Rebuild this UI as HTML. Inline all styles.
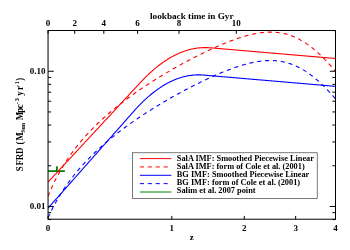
<!DOCTYPE html>
<html><head><meta charset="utf-8"><style>
html,body{margin:0;padding:0;background:#fff;}
svg{display:block;filter:grayscale(0)}
text{font-family:"Liberation Serif",serif;font-weight:bold;fill:#000}
</style></head><body>
<svg width="350" height="250" viewBox="0 0 350 250" font-size="9.0">
<rect width="350" height="250" fill="#fff"/>
<defs><clipPath id="cp"><rect x="48.05" y="30.5" width="287.45" height="188.7"/></clipPath></defs>
<g clip-path="url(#cp)" fill="none" stroke-width="1.1" stroke-linejoin="round">
<line x1="48" y1="171" x2="64.9" y2="171" stroke="#008000" stroke-width="1.75"/>
<line x1="56.9" y1="166.2" x2="56.9" y2="171" stroke="#008000" stroke-width="1.75"/>
<path d="M48.05 182.11 L48.50 181.63 L48.95 181.15 L49.40 180.66 L49.84 180.18 L50.29 179.70 L50.73 179.22 L51.17 178.74 L51.62 178.27 L52.06 177.79 L52.50 177.32 L52.94 176.85 L53.37 176.37 L53.81 175.90 L54.24 175.43 L54.68 174.97 L55.11 174.50 L55.54 174.03 L55.98 173.57 L56.41 173.10 L56.84 172.64 L57.26 172.18 L57.69 171.72 L58.12 171.26 L58.54 170.80 L58.97 170.34 L59.39 169.89 L59.81 169.43 L60.23 168.98 L60.65 168.52 L61.07 168.07 L61.49 167.62 L61.91 167.17 L62.32 166.72 L62.74 166.28 L63.15 165.83 L63.57 165.38 L63.98 164.94 L64.39 164.50 L64.80 164.05 L65.21 163.61 L65.62 163.17 L66.03 162.73 L66.43 162.29 L66.84 161.85 L67.24 161.42 L67.65 160.98 L68.05 160.55 L68.45 160.11 L68.85 159.68 L69.25 159.25 L69.65 158.82 L70.05 158.39 L70.45 157.96 L70.85 157.53 L71.24 157.11 L71.64 156.68 L72.03 156.26 L72.42 155.83 L72.82 155.41 L73.21 154.99 L73.60 154.56 L73.99 154.14 L74.38 153.73 L74.77 153.31 L75.15 152.89 L75.54 152.47 L75.92 152.06 L76.31 151.64 L76.69 151.23 L77.08 150.81 L77.46 150.40 L77.84 149.99 L78.22 149.58 L78.60 149.17 L78.98 148.76 L79.36 148.35 L79.74 147.95 L80.11 147.54 L80.49 147.14 L80.86 146.73 L81.24 146.33 L81.61 145.92 L81.98 145.52 L82.36 145.12 L82.73 144.72 L83.10 144.32 L83.47 143.92 L83.84 143.53 L84.20 143.13 L84.57 142.73 L84.94 142.34 L85.30 141.94 L85.67 141.55 L86.03 141.16 L86.40 140.76 L86.76 140.37 L87.12 139.98 L87.48 139.59 L87.84 139.20 L88.20 138.82 L88.56 138.43 L88.92 138.04 L89.28 137.66 L89.64 137.27 L89.99 136.89 L90.35 136.50 L90.70 136.12 L91.06 135.74 L91.41 135.36 L91.76 134.98 L92.12 134.60 L92.47 134.22 L92.82 133.84 L93.17 133.46 L93.52 133.08 L93.87 132.71 L94.21 132.33 L94.56 131.96 L94.91 131.59 L96.18 130.22 L97.44 128.86 L98.69 127.51 L99.93 126.17 L101.17 124.84 L102.39 123.51 L103.61 122.20 L104.82 120.90 L106.02 119.60 L107.22 118.32 L108.40 117.04 L109.58 115.77 L110.75 114.51 L111.91 113.25 L113.06 112.01 L114.21 110.77 L115.35 109.54 L116.48 108.32 L117.61 107.11 L118.73 105.90 L119.84 104.70 L120.94 103.51 L122.04 102.33 L123.13 101.15 L124.22 99.98 L125.30 98.82 L126.37 97.66 L127.43 96.52 L128.49 95.37 L129.54 94.24 L130.59 93.11 L131.63 91.99 L132.66 90.87 L133.69 89.76 L134.71 88.66 L135.73 87.57 L136.74 86.48 L137.75 85.39 L138.75 84.31 L139.74 83.24 L140.73 82.18 L141.71 81.13 L142.69 80.11 L143.66 79.10 L144.63 78.12 L145.59 77.16 L146.55 76.21 L147.50 75.29 L148.45 74.39 L149.39 73.51 L150.32 72.65 L151.26 71.80 L152.18 70.98 L153.10 70.17 L154.02 69.38 L154.93 68.61 L155.84 67.86 L156.75 67.12 L157.65 66.41 L158.54 65.70 L159.43 65.02 L160.32 64.35 L161.20 63.70 L162.07 63.06 L162.95 62.44 L163.81 61.84 L164.68 61.25 L165.54 60.68 L166.39 60.12 L167.25 59.57 L168.09 59.04 L168.94 58.53 L169.78 58.03 L170.61 57.54 L171.44 57.07 L172.27 56.61 L173.10 56.16 L173.92 55.73 L174.73 55.31 L175.55 54.90 L176.36 54.51 L177.16 54.13 L177.96 53.76 L178.76 53.40 L179.56 53.06 L180.35 52.72 L181.14 52.40 L181.92 52.10 L182.70 51.80 L183.48 51.51 L184.25 51.24 L185.02 50.97 L185.79 50.72 L186.56 50.48 L187.32 50.25 L188.08 50.03 L188.83 49.82 L189.58 49.62 L190.33 49.43 L191.07 49.25 L191.82 49.08 L192.56 48.92 L193.29 48.77 L194.02 48.63 L194.75 48.49 L195.48 48.37 L196.21 48.26 L196.93 48.16 L197.64 48.06 L198.36 47.98 L199.07 47.90 L199.78 47.83 L200.49 47.77 L201.19 47.72 L201.89 47.68 L202.59 47.64 L203.29 47.62 L203.98 47.60 L204.67 47.59 L205.36 47.59 L206.04 47.59 L206.73 47.61 L207.41 47.63 L208.08 47.66 L208.76 47.69 L209.43 47.74 L210.10 47.79 L210.77 47.84 L211.43 47.90 L212.10 47.96 L212.76 48.01 L213.41 48.07 L214.07 48.13 L214.72 48.18 L215.37 48.24 L216.02 48.29 L216.66 48.35 L217.31 48.40 L217.95 48.46 L218.59 48.51 L219.22 48.57 L219.86 48.62 L220.49 48.67 L221.12 48.73 L221.75 48.78 L222.37 48.84 L222.99 48.89 L223.61 48.94 L224.23 48.99 L224.85 49.05 L225.46 49.10 L226.08 49.15 L226.69 49.20 L227.29 49.26 L227.90 49.31 L228.50 49.36 L229.11 49.41 L229.71 49.46 L230.30 49.51 L230.90 49.56 L231.49 49.61 L232.09 49.67 L232.68 49.72 L233.26 49.77 L233.85 49.82 L234.44 49.87 L235.02 49.92 L235.60 49.97 L236.18 50.02 L236.75 50.06 L237.33 50.11 L237.90 50.16 L238.47 50.21 L239.04 50.26 L239.61 50.31 L240.18 50.36 L240.74 50.41 L241.30 50.45 L241.86 50.50 L242.42 50.55 L242.98 50.60 L243.53 50.64 L244.09 50.69 L244.64 50.74 L245.19 50.79 L245.74 50.83 L246.28 50.88 L246.83 50.93 L247.37 50.97 L247.91 51.02 L248.45 51.06 L248.99 51.11 L249.53 51.16 L250.06 51.20 L250.60 51.25 L251.13 51.29 L251.66 51.34 L252.19 51.38 L252.72 51.43 L253.24 51.47 L253.77 51.52 L254.29 51.56 L254.81 51.61 L255.33 51.65 L255.85 51.70 L256.36 51.74 L256.88 51.78 L257.39 51.83 L257.91 51.87 L258.42 51.92 L258.93 51.96 L259.43 52.00 L259.94 52.05 L260.44 52.09 L260.95 52.13 L261.45 52.18 L261.95 52.22 L262.45 52.26 L262.95 52.30 L263.45 52.35 L263.94 52.39 L264.43 52.43 L264.93 52.47 L265.42 52.51 L265.91 52.56 L266.40 52.60 L266.88 52.64 L267.37 52.68 L267.85 52.72 L268.34 52.76 L268.82 52.81 L269.30 52.85 L269.78 52.89 L270.26 52.93 L270.73 52.97 L271.21 53.01 L271.68 53.05 L272.15 53.09 L272.63 53.13 L273.10 53.17 L273.57 53.21 L274.03 53.25 L274.50 53.29 L274.97 53.33 L275.43 53.37 L275.89 53.41 L276.36 53.45 L276.82 53.49 L277.28 53.53 L277.73 53.57 L278.19 53.61 L278.65 53.65 L279.10 53.68 L279.56 53.72 L280.01 53.76 L280.46 53.80 L280.91 53.84 L281.36 53.88 L281.81 53.92 L282.25 53.95 L282.70 53.99 L283.14 54.03 L283.59 54.07 L284.03 54.11 L284.47 54.14 L284.91 54.18 L285.35 54.22 L285.79 54.26 L286.23 54.29 L286.66 54.33 L287.10 54.37 L287.53 54.40 L287.96 54.44 L288.39 54.48 L288.83 54.52 L289.26 54.55 L289.68 54.59 L290.11 54.63 L290.54 54.66 L290.96 54.70 L291.39 54.73 L291.81 54.77 L292.23 54.81 L292.66 54.84 L293.08 54.88 L293.50 54.91 L293.91 54.95 L294.33 54.99 L294.75 55.02 L295.16 55.06 L295.58 55.09 L295.99 55.13 L296.41 55.16 L296.82 55.20 L297.23 55.23 L297.64 55.27 L298.05 55.30 L298.45 55.34 L298.86 55.37 L299.27 55.41 L299.67 55.44 L300.08 55.48 L300.48 55.51 L300.88 55.55 L301.29 55.58 L301.69 55.61 L302.09 55.65 L302.49 55.68 L302.88 55.72 L303.28 55.75 L303.68 55.78 L304.07 55.82 L304.47 55.85 L304.86 55.89 L305.25 55.92 L305.64 55.95 L306.04 55.99 L306.43 56.02 L306.82 56.05 L307.20 56.09 L307.59 56.12 L307.98 56.15 L308.36 56.19 L308.75 56.22 L309.13 56.25 L309.52 56.28 L309.90 56.32 L310.28 56.35 L310.66 56.38 L311.04 56.41 L311.42 56.45 L311.80 56.48 L312.18 56.51 L312.56 56.54 L312.93 56.58 L313.31 56.61 L313.68 56.64 L314.06 56.67 L314.43 56.70 L314.80 56.74 L315.17 56.77 L315.54 56.80 L315.91 56.83 L316.28 56.86 L316.65 56.89 L317.02 56.93 L317.39 56.96 L317.75 56.99 L318.12 57.02 L318.48 57.05 L318.85 57.08 L319.21 57.11 L319.57 57.14 L319.94 57.17 L320.30 57.21 L320.66 57.24 L321.02 57.27 L321.37 57.30 L321.73 57.33 L322.09 57.36 L322.45 57.39 L322.80 57.42 L323.16 57.45 L323.51 57.48 L323.87 57.51 L324.22 57.54 L324.57 57.57 L324.92 57.60 L325.28 57.63 L325.63 57.66 L325.98 57.69 L326.32 57.72 L326.67 57.75 L327.02 57.78 L327.37 57.81 L327.71 57.84 L328.06 57.87 L328.40 57.90 L328.75 57.93 L329.09 57.96 L329.44 57.99 L329.78 58.02 L330.12 58.05 L330.46 58.07 L330.80 58.10 L331.14 58.13 L331.48 58.16 L331.82 58.19 L332.16 58.22 L332.49 58.25 L332.83 58.28 L333.17 58.31 L333.50 58.33 L333.84 58.36 L334.17 58.39 L334.50 58.42 L334.84 58.45 L335.17 58.48 L335.50 58.50" stroke="#ff0000"/>
<path d="M48.05 196.24 L48.50 195.11 L48.95 194.01 L49.40 192.93 L49.84 191.87 L50.29 190.83 L50.73 189.81 L51.17 188.80 L51.62 187.81 L52.06 186.84 L52.50 185.88 L52.94 184.94 L53.37 184.02 L53.81 183.10 L54.24 182.21 L54.68 181.32 L55.11 180.45 L55.54 179.59 L55.98 178.75 L56.41 177.91 L56.84 177.09 L57.26 176.28 L57.69 175.48 L58.12 174.69 L58.54 173.91 L58.97 173.14 L59.39 172.38 L59.81 171.63 L60.23 170.89 L60.65 170.16 L61.07 169.44 L61.49 168.73 L61.91 168.02 L62.32 167.33 L62.74 166.64 L63.15 165.96 L63.57 165.29 L63.98 164.62 L64.39 163.96 L64.80 163.32 L65.21 162.67 L65.62 162.04 L66.03 161.41 L66.43 160.79 L66.84 160.17 L67.24 159.56 L67.65 158.96 L68.05 158.36 L68.45 157.77 L68.85 157.19 L69.25 156.61 L69.65 156.03 L70.05 155.46 L70.45 154.90 L70.85 154.34 L71.24 153.79 L71.64 153.25 L72.03 152.70 L72.42 152.17 L72.82 151.63 L73.21 151.11 L73.60 150.59 L73.99 150.07 L74.38 149.55 L74.77 149.04 L75.15 148.54 L75.54 148.04 L75.92 147.54 L76.31 147.05 L76.69 146.56 L77.08 146.08 L77.46 145.60 L77.84 145.12 L78.22 144.65 L78.60 144.18 L78.98 143.72 L79.36 143.26 L79.74 142.80 L80.11 142.35 L80.49 141.90 L80.86 141.45 L81.24 141.01 L81.61 140.57 L81.98 140.13 L82.36 139.70 L82.73 139.27 L83.10 138.84 L83.47 138.41 L83.84 137.99 L84.20 137.57 L84.57 137.16 L84.94 136.75 L85.30 136.34 L85.67 135.93 L86.03 135.53 L86.40 135.12 L86.76 134.73 L87.12 134.33 L87.48 133.94 L87.84 133.55 L88.20 133.16 L88.56 132.77 L88.92 132.39 L89.28 132.01 L89.64 131.63 L89.99 131.26 L90.35 130.88 L90.70 130.51 L91.06 130.14 L91.41 129.78 L91.76 129.41 L92.12 129.05 L92.47 128.69 L92.82 128.34 L93.17 127.98 L93.52 127.63 L93.87 127.28 L94.21 126.93 L94.56 126.58 L94.91 126.24 L96.18 124.99 L97.44 123.76 L98.69 122.56 L99.93 121.39 L101.17 120.24 L102.39 119.11 L103.61 118.00 L104.82 116.91 L106.02 115.84 L107.22 114.79 L108.40 113.76 L109.58 112.75 L110.75 111.75 L111.91 110.77 L113.06 109.81 L114.21 108.86 L115.35 107.93 L116.48 107.01 L117.61 106.11 L118.73 105.22 L119.84 104.34 L120.94 103.48 L122.04 102.62 L123.13 101.79 L124.22 100.96 L125.30 100.14 L126.37 99.34 L127.43 98.54 L128.49 97.76 L129.54 96.99 L130.59 96.23 L131.63 95.47 L132.66 94.73 L133.69 94.00 L134.71 93.27 L135.73 92.56 L136.74 91.85 L137.75 91.15 L138.75 90.46 L139.74 89.78 L140.73 89.10 L141.71 88.44 L142.69 87.78 L143.66 87.13 L144.63 86.48 L145.59 85.84 L146.55 85.21 L147.50 84.59 L148.45 83.97 L149.39 83.36 L150.32 82.76 L151.26 82.16 L152.18 81.57 L153.10 80.99 L154.02 80.41 L154.93 79.83 L155.84 79.26 L156.75 78.70 L157.65 78.14 L158.54 77.59 L159.43 77.05 L160.32 76.51 L161.20 75.97 L162.07 75.44 L162.95 74.91 L163.81 74.39 L164.68 73.87 L165.54 73.36 L166.39 72.86 L167.25 72.35 L168.09 71.86 L168.94 71.36 L169.78 70.87 L170.61 70.39 L171.44 69.91 L172.27 69.43 L173.10 68.96 L173.92 68.49 L174.73 68.03 L175.55 67.57 L176.36 67.11 L177.16 66.66 L177.96 66.21 L178.76 65.77 L179.56 65.32 L180.35 64.89 L181.14 64.45 L181.92 64.02 L182.70 63.60 L183.48 63.17 L184.25 62.75 L185.02 62.34 L185.79 61.92 L186.56 61.51 L187.32 61.11 L188.08 60.71 L188.83 60.31 L189.58 59.91 L190.33 59.52 L191.07 59.13 L191.82 58.74 L192.56 58.35 L193.29 57.97 L194.02 57.60 L194.75 57.22 L195.48 56.85 L196.21 56.48 L196.93 56.12 L197.64 55.75 L198.36 55.39 L199.07 55.04 L199.78 54.68 L200.49 54.33 L201.19 53.98 L201.89 53.64 L202.59 53.29 L203.29 52.95 L203.98 52.62 L204.67 52.28 L205.36 51.95 L206.04 51.62 L206.73 51.30 L207.41 50.97 L208.08 50.65 L208.76 50.33 L209.43 50.02 L210.10 49.71 L210.77 49.40 L211.43 49.09 L212.10 48.78 L212.76 48.48 L213.41 48.18 L214.07 47.89 L214.72 47.59 L215.37 47.30 L216.02 47.01 L216.66 46.73 L217.31 46.44 L217.95 46.16 L218.59 45.88 L219.22 45.61 L219.86 45.33 L220.49 45.06 L221.12 44.80 L221.75 44.53 L222.37 44.27 L222.99 44.01 L223.61 43.75 L224.23 43.50 L224.85 43.24 L225.46 42.99 L226.08 42.75 L226.69 42.50 L227.29 42.26 L227.90 42.02 L228.50 41.78 L229.11 41.55 L229.71 41.32 L230.30 41.09 L230.90 40.86 L231.49 40.64 L232.09 40.42 L232.68 40.20 L233.26 39.99 L233.85 39.77 L234.44 39.56 L235.02 39.36 L235.60 39.15 L236.18 38.95 L236.75 38.75 L237.33 38.56 L237.90 38.36 L238.47 38.17 L239.04 37.98 L239.61 37.80 L240.18 37.61 L240.74 37.43 L241.30 37.26 L241.86 37.08 L242.42 36.91 L242.98 36.74 L243.53 36.58 L244.09 36.41 L244.64 36.25 L245.19 36.10 L245.74 35.94 L246.28 35.79 L246.83 35.64 L247.37 35.50 L247.91 35.35 L248.45 35.21 L248.99 35.08 L249.53 34.94 L250.06 34.81 L250.60 34.68 L251.13 34.56 L251.66 34.44 L252.19 34.32 L252.72 34.20 L253.24 34.09 L253.77 33.98 L254.29 33.87 L254.81 33.77 L255.33 33.67 L255.85 33.57 L256.36 33.47 L256.88 33.38 L257.39 33.29 L257.91 33.21 L258.42 33.12 L258.93 33.05 L259.43 32.97 L259.94 32.90 L260.44 32.83 L260.95 32.76 L261.45 32.70 L261.95 32.64 L262.45 32.58 L262.95 32.53 L263.45 32.48 L263.94 32.43 L264.43 32.39 L264.93 32.35 L265.42 32.31 L265.91 32.27 L266.40 32.24 L266.88 32.22 L267.37 32.19 L267.85 32.17 L268.34 32.15 L268.82 32.14 L269.30 32.13 L269.78 32.12 L270.26 32.12 L270.73 32.12 L271.21 32.12 L271.68 32.13 L272.15 32.14 L272.63 32.15 L273.10 32.16 L273.57 32.18 L274.03 32.21 L274.50 32.23 L274.97 32.26 L275.43 32.30 L275.89 32.33 L276.36 32.37 L276.82 32.42 L277.28 32.46 L277.73 32.51 L278.19 32.57 L278.65 32.62 L279.10 32.68 L279.56 32.75 L280.01 32.82 L280.46 32.89 L280.91 32.96 L281.36 33.04 L281.81 33.12 L282.25 33.20 L282.70 33.29 L283.14 33.38 L283.59 33.48 L284.03 33.57 L284.47 33.68 L284.91 33.78 L285.35 33.89 L285.79 34.00 L286.23 34.11 L286.66 34.23 L287.10 34.35 L287.53 34.48 L287.96 34.61 L288.39 34.74 L288.83 34.87 L289.26 35.01 L289.68 35.15 L290.11 35.30 L290.54 35.44 L290.96 35.59 L291.39 35.75 L291.81 35.91 L292.23 36.07 L292.66 36.23 L293.08 36.40 L293.50 36.57 L293.91 36.74 L294.33 36.92 L294.75 37.10 L295.16 37.28 L295.58 37.47 L295.99 37.66 L296.41 37.85 L296.82 38.04 L297.23 38.24 L297.64 38.44 L298.05 38.65 L298.45 38.86 L298.86 39.07 L299.27 39.28 L299.67 39.50 L300.08 39.71 L300.48 39.94 L300.88 40.16 L301.29 40.39 L301.69 40.62 L302.09 40.85 L302.49 41.09 L302.88 41.33 L303.28 41.57 L303.68 41.82 L304.07 42.06 L304.47 42.31 L304.86 42.57 L305.25 42.82 L305.64 43.08 L306.04 43.34 L306.43 43.60 L306.82 43.87 L307.20 44.14 L307.59 44.41 L307.98 44.68 L308.36 44.96 L308.75 45.24 L309.13 45.52 L309.52 45.80 L309.90 46.09 L310.28 46.38 L310.66 46.67 L311.04 46.96 L311.42 47.25 L311.80 47.55 L312.18 47.85 L312.56 48.15 L312.93 48.46 L313.31 48.76 L313.68 49.07 L314.06 49.38 L314.43 49.70 L314.80 50.01 L315.17 50.33 L315.54 50.65 L315.91 50.97 L316.28 51.29 L316.65 51.62 L317.02 51.94 L317.39 52.27 L317.75 52.60 L318.12 52.93 L318.48 53.27 L318.85 53.60 L319.21 53.94 L319.57 54.28 L319.94 54.62 L320.30 54.97 L320.66 55.31 L321.02 55.66 L321.37 56.01 L321.73 56.36 L322.09 56.71 L322.45 57.06 L322.80 57.42 L323.16 57.77 L323.51 58.13 L323.87 58.49 L324.22 58.85 L324.57 59.21 L324.92 59.58 L325.28 59.94 L325.63 60.31 L325.98 60.68 L326.32 61.05 L326.67 61.42 L327.02 61.79 L327.37 62.16 L327.71 62.54 L328.06 62.91 L328.40 63.29 L328.75 63.67 L329.09 64.05 L329.44 64.43 L329.78 64.81 L330.12 65.19 L330.46 65.58 L330.80 65.96 L331.14 66.35 L331.48 66.73 L331.82 67.12 L332.16 67.51 L332.49 67.90 L332.83 68.29 L333.17 68.68 L333.50 69.08 L333.84 69.47 L334.17 69.87 L334.50 70.26 L334.84 70.66 L335.17 71.05 L335.50 71.45" stroke="#ff0000" stroke-dasharray="4.1 3.8"/>
<path d="M48.05 208.21 L48.50 207.70 L48.95 207.19 L49.40 206.69 L49.84 206.18 L50.29 205.68 L50.73 205.18 L51.17 204.67 L51.62 204.17 L52.06 203.68 L52.50 203.18 L52.94 202.68 L53.37 202.19 L53.81 201.69 L54.24 201.20 L54.68 200.71 L55.11 200.22 L55.54 199.73 L55.98 199.24 L56.41 198.76 L56.84 198.27 L57.26 197.79 L57.69 197.30 L58.12 196.82 L58.54 196.34 L58.97 195.86 L59.39 195.38 L59.81 194.91 L60.23 194.43 L60.65 193.96 L61.07 193.48 L61.49 193.01 L61.91 192.54 L62.32 192.07 L62.74 191.60 L63.15 191.13 L63.57 190.66 L63.98 190.19 L64.39 189.73 L64.80 189.27 L65.21 188.80 L65.62 188.34 L66.03 187.88 L66.43 187.42 L66.84 186.96 L67.24 186.50 L67.65 186.05 L68.05 185.59 L68.45 185.14 L68.85 184.68 L69.25 184.23 L69.65 183.78 L70.05 183.33 L70.45 182.88 L70.85 182.43 L71.24 181.98 L71.64 181.53 L72.03 181.09 L72.42 180.64 L72.82 180.20 L73.21 179.76 L73.60 179.31 L73.99 178.87 L74.38 178.43 L74.77 177.99 L75.15 177.56 L75.54 177.12 L75.92 176.68 L76.31 176.25 L76.69 175.81 L77.08 175.38 L77.46 174.95 L77.84 174.52 L78.22 174.09 L78.60 173.66 L78.98 173.23 L79.36 172.80 L79.74 172.37 L80.11 171.95 L80.49 171.52 L80.86 171.10 L81.24 170.68 L81.61 170.25 L81.98 169.83 L82.36 169.41 L82.73 168.99 L83.10 168.57 L83.47 168.15 L83.84 167.74 L84.20 167.32 L84.57 166.91 L84.94 166.49 L85.30 166.08 L85.67 165.66 L86.03 165.25 L86.40 164.84 L86.76 164.43 L87.12 164.02 L87.48 163.61 L87.84 163.20 L88.20 162.80 L88.56 162.39 L88.92 161.99 L89.28 161.58 L89.64 161.18 L89.99 160.77 L90.35 160.37 L90.70 159.97 L91.06 159.57 L91.41 159.17 L91.76 158.77 L92.12 158.37 L92.47 157.97 L92.82 157.58 L93.17 157.18 L93.52 156.79 L93.87 156.39 L94.21 156.00 L94.56 155.61 L94.91 155.21 L96.18 153.78 L97.44 152.35 L98.69 150.94 L99.93 149.53 L101.17 148.14 L102.39 146.75 L103.61 145.37 L104.82 144.00 L106.02 142.65 L107.22 141.30 L108.40 139.96 L109.58 138.62 L110.75 137.30 L111.91 135.99 L113.06 134.68 L114.21 133.38 L115.35 132.10 L116.48 130.81 L117.61 129.54 L118.73 128.28 L119.84 127.02 L120.94 125.77 L122.04 124.53 L123.13 123.29 L124.22 122.07 L125.30 120.85 L126.37 119.64 L127.43 118.43 L128.49 117.24 L129.54 116.05 L130.59 114.86 L131.63 113.69 L132.66 112.52 L133.69 111.35 L134.71 110.21 L135.73 109.09 L136.74 108.00 L137.75 106.93 L138.75 105.88 L139.74 104.86 L140.73 103.85 L141.71 102.87 L142.69 101.92 L143.66 100.98 L144.63 100.07 L145.59 99.18 L146.55 98.30 L147.50 97.45 L148.45 96.62 L149.39 95.81 L150.32 95.02 L151.26 94.24 L152.18 93.49 L153.10 92.75 L154.02 92.04 L154.93 91.34 L155.84 90.66 L156.75 90.00 L157.65 89.35 L158.54 88.72 L159.43 88.11 L160.32 87.52 L161.20 86.94 L162.07 86.38 L162.95 85.83 L163.81 85.30 L164.68 84.78 L165.54 84.29 L166.39 83.80 L167.25 83.33 L168.09 82.88 L168.94 82.44 L169.78 82.01 L170.61 81.60 L171.44 81.21 L172.27 80.82 L173.10 80.45 L173.92 80.10 L174.73 79.75 L175.55 79.42 L176.36 79.11 L177.16 78.80 L177.96 78.51 L178.76 78.23 L179.56 77.96 L180.35 77.71 L181.14 77.47 L181.92 77.23 L182.70 77.02 L183.48 76.81 L184.25 76.61 L185.02 76.42 L185.79 76.25 L186.56 76.09 L187.32 75.93 L188.08 75.79 L188.83 75.66 L189.58 75.54 L190.33 75.43 L191.07 75.33 L191.82 75.24 L192.56 75.16 L193.29 75.09 L194.02 75.02 L194.75 74.97 L195.48 74.93 L196.21 74.90 L196.93 74.87 L197.64 74.86 L198.36 74.85 L199.07 74.86 L199.78 74.87 L200.49 74.89 L201.19 74.92 L201.89 74.96 L202.59 75.00 L203.29 75.06 L203.98 75.11 L204.67 75.17 L205.36 75.23 L206.04 75.29 L206.73 75.35 L207.41 75.41 L208.08 75.47 L208.76 75.52 L209.43 75.58 L210.10 75.64 L210.77 75.69 L211.43 75.75 L212.10 75.81 L212.76 75.86 L213.41 75.92 L214.07 75.98 L214.72 76.03 L215.37 76.09 L216.02 76.14 L216.66 76.20 L217.31 76.25 L217.95 76.31 L218.59 76.36 L219.22 76.42 L219.86 76.47 L220.49 76.53 L221.12 76.58 L221.75 76.63 L222.37 76.69 L222.99 76.74 L223.61 76.79 L224.23 76.85 L224.85 76.90 L225.46 76.95 L226.08 77.00 L226.69 77.06 L227.29 77.11 L227.90 77.16 L228.50 77.21 L229.11 77.26 L229.71 77.31 L230.30 77.36 L230.90 77.42 L231.49 77.47 L232.09 77.52 L232.68 77.57 L233.26 77.62 L233.85 77.67 L234.44 77.72 L235.02 77.77 L235.60 77.82 L236.18 77.87 L236.75 77.92 L237.33 77.96 L237.90 78.01 L238.47 78.06 L239.04 78.11 L239.61 78.16 L240.18 78.21 L240.74 78.26 L241.30 78.30 L241.86 78.35 L242.42 78.40 L242.98 78.45 L243.53 78.50 L244.09 78.54 L244.64 78.59 L245.19 78.64 L245.74 78.68 L246.28 78.73 L246.83 78.78 L247.37 78.82 L247.91 78.87 L248.45 78.92 L248.99 78.96 L249.53 79.01 L250.06 79.05 L250.60 79.10 L251.13 79.14 L251.66 79.19 L252.19 79.24 L252.72 79.28 L253.24 79.33 L253.77 79.37 L254.29 79.41 L254.81 79.46 L255.33 79.50 L255.85 79.55 L256.36 79.59 L256.88 79.64 L257.39 79.68 L257.91 79.72 L258.42 79.77 L258.93 79.81 L259.43 79.85 L259.94 79.90 L260.44 79.94 L260.95 79.98 L261.45 80.03 L261.95 80.07 L262.45 80.11 L262.95 80.15 L263.45 80.20 L263.94 80.24 L264.43 80.28 L264.93 80.32 L265.42 80.37 L265.91 80.41 L266.40 80.45 L266.88 80.49 L267.37 80.53 L267.85 80.57 L268.34 80.62 L268.82 80.66 L269.30 80.70 L269.78 80.74 L270.26 80.78 L270.73 80.82 L271.21 80.86 L271.68 80.90 L272.15 80.94 L272.63 80.98 L273.10 81.02 L273.57 81.06 L274.03 81.10 L274.50 81.14 L274.97 81.18 L275.43 81.22 L275.89 81.26 L276.36 81.30 L276.82 81.34 L277.28 81.38 L277.73 81.42 L278.19 81.46 L278.65 81.50 L279.10 81.54 L279.56 81.57 L280.01 81.61 L280.46 81.65 L280.91 81.69 L281.36 81.73 L281.81 81.77 L282.25 81.80 L282.70 81.84 L283.14 81.88 L283.59 81.92 L284.03 81.96 L284.47 81.99 L284.91 82.03 L285.35 82.07 L285.79 82.11 L286.23 82.14 L286.66 82.18 L287.10 82.22 L287.53 82.26 L287.96 82.29 L288.39 82.33 L288.83 82.37 L289.26 82.40 L289.68 82.44 L290.11 82.48 L290.54 82.51 L290.96 82.55 L291.39 82.59 L291.81 82.62 L292.23 82.66 L292.66 82.69 L293.08 82.73 L293.50 82.77 L293.91 82.80 L294.33 82.84 L294.75 82.87 L295.16 82.91 L295.58 82.94 L295.99 82.98 L296.41 83.01 L296.82 83.05 L297.23 83.08 L297.64 83.12 L298.05 83.15 L298.45 83.19 L298.86 83.22 L299.27 83.26 L299.67 83.29 L300.08 83.33 L300.48 83.36 L300.88 83.40 L301.29 83.43 L301.69 83.47 L302.09 83.50 L302.49 83.53 L302.88 83.57 L303.28 83.60 L303.68 83.64 L304.07 83.67 L304.47 83.70 L304.86 83.74 L305.25 83.77 L305.64 83.80 L306.04 83.84 L306.43 83.87 L306.82 83.90 L307.20 83.94 L307.59 83.97 L307.98 84.00 L308.36 84.04 L308.75 84.07 L309.13 84.10 L309.52 84.14 L309.90 84.17 L310.28 84.20 L310.66 84.23 L311.04 84.27 L311.42 84.30 L311.80 84.33 L312.18 84.36 L312.56 84.40 L312.93 84.43 L313.31 84.46 L313.68 84.49 L314.06 84.52 L314.43 84.56 L314.80 84.59 L315.17 84.62 L315.54 84.65 L315.91 84.68 L316.28 84.71 L316.65 84.75 L317.02 84.78 L317.39 84.81 L317.75 84.84 L318.12 84.87 L318.48 84.90 L318.85 84.93 L319.21 84.96 L319.57 84.99 L319.94 85.03 L320.30 85.06 L320.66 85.09 L321.02 85.12 L321.37 85.15 L321.73 85.18 L322.09 85.21 L322.45 85.24 L322.80 85.27 L323.16 85.30 L323.51 85.33 L323.87 85.36 L324.22 85.39 L324.57 85.42 L324.92 85.45 L325.28 85.48 L325.63 85.51 L325.98 85.54 L326.32 85.57 L326.67 85.60 L327.02 85.63 L327.37 85.66 L327.71 85.69 L328.06 85.72 L328.40 85.75 L328.75 85.78 L329.09 85.81 L329.44 85.84 L329.78 85.87 L330.12 85.90 L330.46 85.93 L330.80 85.95 L331.14 85.98 L331.48 86.01 L331.82 86.04 L332.16 86.07 L332.49 86.10 L332.83 86.13 L333.17 86.16 L333.50 86.19 L333.84 86.21 L334.17 86.24 L334.50 86.27 L334.84 86.30 L335.17 86.33 L335.50 86.36" stroke="#0000ff"/>
<path d="M48.05 217.67 L48.50 216.68 L48.95 215.70 L49.40 214.74 L49.84 213.79 L50.29 212.86 L50.73 211.94 L51.17 211.04 L51.62 210.15 L52.06 209.27 L52.50 208.41 L52.94 207.56 L53.37 206.72 L53.81 205.89 L54.24 205.08 L54.68 204.27 L55.11 203.48 L55.54 202.70 L55.98 201.92 L56.41 201.16 L56.84 200.41 L57.26 199.67 L57.69 198.93 L58.12 198.21 L58.54 197.49 L58.97 196.78 L59.39 196.09 L59.81 195.39 L60.23 194.71 L60.65 194.04 L61.07 193.37 L61.49 192.71 L61.91 192.06 L62.32 191.41 L62.74 190.77 L63.15 190.14 L63.57 189.52 L63.98 188.90 L64.39 188.29 L64.80 187.68 L65.21 187.08 L65.62 186.49 L66.03 185.90 L66.43 185.32 L66.84 184.75 L67.24 184.18 L67.65 183.61 L68.05 183.05 L68.45 182.50 L68.85 181.95 L69.25 181.41 L69.65 180.87 L70.05 180.34 L70.45 179.81 L70.85 179.28 L71.24 178.76 L71.64 178.25 L72.03 177.74 L72.42 177.23 L72.82 176.73 L73.21 176.23 L73.60 175.74 L73.99 175.25 L74.38 174.76 L74.77 174.28 L75.15 173.80 L75.54 173.33 L75.92 172.86 L76.31 172.40 L76.69 171.93 L77.08 171.47 L77.46 171.02 L77.84 170.57 L78.22 170.12 L78.60 169.67 L78.98 169.23 L79.36 168.80 L79.74 168.36 L80.11 167.93 L80.49 167.50 L80.86 167.07 L81.24 166.65 L81.61 166.23 L81.98 165.82 L82.36 165.40 L82.73 164.99 L83.10 164.58 L83.47 164.18 L83.84 163.78 L84.20 163.38 L84.57 162.98 L84.94 162.59 L85.30 162.20 L85.67 161.81 L86.03 161.42 L86.40 161.04 L86.76 160.66 L87.12 160.28 L87.48 159.90 L87.84 159.53 L88.20 159.16 L88.56 158.79 L88.92 158.42 L89.28 158.05 L89.64 157.69 L89.99 157.33 L90.35 156.97 L90.70 156.62 L91.06 156.26 L91.41 155.91 L91.76 155.56 L92.12 155.22 L92.47 154.87 L92.82 154.53 L93.17 154.19 L93.52 153.85 L93.87 153.51 L94.21 153.17 L94.56 152.84 L94.91 152.51 L96.18 151.30 L97.44 150.12 L98.69 148.97 L99.93 147.83 L101.17 146.72 L102.39 145.63 L103.61 144.56 L104.82 143.50 L106.02 142.47 L107.22 141.45 L108.40 140.45 L109.58 139.47 L110.75 138.50 L111.91 137.55 L113.06 136.62 L114.21 135.70 L115.35 134.79 L116.48 133.90 L117.61 133.02 L118.73 132.15 L119.84 131.30 L120.94 130.46 L122.04 129.63 L123.13 128.81 L124.22 128.00 L125.30 127.21 L126.37 126.42 L127.43 125.65 L128.49 124.88 L129.54 124.13 L130.59 123.38 L131.63 122.65 L132.66 121.92 L133.69 121.20 L134.71 120.49 L135.73 119.79 L136.74 119.10 L137.75 118.42 L138.75 117.74 L139.74 117.07 L140.73 116.41 L141.71 115.76 L142.69 115.12 L143.66 114.48 L144.63 113.85 L145.59 113.22 L146.55 112.60 L147.50 111.99 L148.45 111.39 L149.39 110.79 L150.32 110.19 L151.26 109.61 L152.18 109.03 L153.10 108.45 L154.02 107.88 L154.93 107.32 L155.84 106.76 L156.75 106.21 L157.65 105.66 L158.54 105.12 L159.43 104.58 L160.32 104.05 L161.20 103.52 L162.07 103.00 L162.95 102.49 L163.81 101.97 L164.68 101.47 L165.54 100.96 L166.39 100.46 L167.25 99.97 L168.09 99.48 L168.94 98.99 L169.78 98.51 L170.61 98.04 L171.44 97.56 L172.27 97.09 L173.10 96.63 L173.92 96.17 L174.73 95.71 L175.55 95.26 L176.36 94.81 L177.16 94.36 L177.96 93.92 L178.76 93.48 L179.56 93.05 L180.35 92.62 L181.14 92.19 L181.92 91.77 L182.70 91.35 L183.48 90.93 L184.25 90.52 L185.02 90.11 L185.79 89.70 L186.56 89.30 L187.32 88.90 L188.08 88.50 L188.83 88.11 L189.58 87.72 L190.33 87.33 L191.07 86.95 L191.82 86.56 L192.56 86.19 L193.29 85.81 L194.02 85.44 L194.75 85.07 L195.48 84.70 L196.21 84.34 L196.93 83.98 L197.64 83.62 L198.36 83.27 L199.07 82.92 L199.78 82.57 L200.49 82.22 L201.19 81.88 L201.89 81.54 L202.59 81.20 L203.29 80.87 L203.98 80.54 L204.67 80.21 L205.36 79.88 L206.04 79.56 L206.73 79.24 L207.41 78.92 L208.08 78.60 L208.76 78.29 L209.43 77.98 L210.10 77.67 L210.77 77.37 L211.43 77.07 L212.10 76.77 L212.76 76.47 L213.41 76.18 L214.07 75.88 L214.72 75.60 L215.37 75.31 L216.02 75.03 L216.66 74.74 L217.31 74.47 L217.95 74.19 L218.59 73.92 L219.22 73.65 L219.86 73.38 L220.49 73.11 L221.12 72.85 L221.75 72.59 L222.37 72.33 L222.99 72.08 L223.61 71.82 L224.23 71.57 L224.85 71.33 L225.46 71.08 L226.08 70.84 L226.69 70.60 L227.29 70.36 L227.90 70.13 L228.50 69.90 L229.11 69.67 L229.71 69.44 L230.30 69.22 L230.90 69.00 L231.49 68.78 L232.09 68.56 L232.68 68.35 L233.26 68.14 L233.85 67.93 L234.44 67.73 L235.02 67.53 L235.60 67.33 L236.18 67.13 L236.75 66.93 L237.33 66.74 L237.90 66.55 L238.47 66.37 L239.04 66.18 L239.61 66.00 L240.18 65.83 L240.74 65.65 L241.30 65.48 L241.86 65.31 L242.42 65.14 L242.98 64.98 L243.53 64.82 L244.09 64.66 L244.64 64.50 L245.19 64.35 L245.74 64.20 L246.28 64.05 L246.83 63.91 L247.37 63.77 L247.91 63.63 L248.45 63.49 L248.99 63.36 L249.53 63.23 L250.06 63.11 L250.60 62.98 L251.13 62.86 L251.66 62.74 L252.19 62.63 L252.72 62.52 L253.24 62.41 L253.77 62.30 L254.29 62.20 L254.81 62.10 L255.33 62.00 L255.85 61.91 L256.36 61.82 L256.88 61.73 L257.39 61.65 L257.91 61.56 L258.42 61.49 L258.93 61.41 L259.43 61.34 L259.94 61.27 L260.44 61.20 L260.95 61.14 L261.45 61.08 L261.95 61.02 L262.45 60.97 L262.95 60.92 L263.45 60.87 L263.94 60.83 L264.43 60.79 L264.93 60.75 L265.42 60.72 L265.91 60.69 L266.40 60.66 L266.88 60.63 L267.37 60.61 L267.85 60.60 L268.34 60.58 L268.82 60.57 L269.30 60.56 L269.78 60.56 L270.26 60.55 L270.73 60.56 L271.21 60.56 L271.68 60.57 L272.15 60.58 L272.63 60.59 L273.10 60.61 L273.57 60.63 L274.03 60.66 L274.50 60.69 L274.97 60.72 L275.43 60.75 L275.89 60.79 L276.36 60.83 L276.82 60.88 L277.28 60.92 L277.73 60.98 L278.19 61.03 L278.65 61.09 L279.10 61.15 L279.56 61.21 L280.01 61.28 L280.46 61.35 L280.91 61.43 L281.36 61.50 L281.81 61.58 L282.25 61.67 L282.70 61.76 L283.14 61.85 L283.59 61.94 L284.03 62.04 L284.47 62.14 L284.91 62.24 L285.35 62.35 L285.79 62.46 L286.23 62.57 L286.66 62.69 L287.10 62.81 L287.53 62.93 L287.96 63.06 L288.39 63.19 L288.83 63.32 L289.26 63.46 L289.68 63.60 L290.11 63.74 L290.54 63.89 L290.96 64.04 L291.39 64.19 L291.81 64.34 L292.23 64.50 L292.66 64.66 L293.08 64.82 L293.50 64.99 L293.91 65.16 L294.33 65.34 L294.75 65.51 L295.16 65.69 L295.58 65.87 L295.99 66.06 L296.41 66.25 L296.82 66.44 L297.23 66.63 L297.64 66.83 L298.05 67.03 L298.45 67.23 L298.86 67.44 L299.27 67.65 L299.67 67.86 L300.08 68.07 L300.48 68.29 L300.88 68.51 L301.29 68.73 L301.69 68.96 L302.09 69.18 L302.49 69.42 L302.88 69.65 L303.28 69.88 L303.68 70.12 L304.07 70.36 L304.47 70.61 L304.86 70.85 L305.25 71.10 L305.64 71.36 L306.04 71.61 L306.43 71.87 L306.82 72.12 L307.20 72.39 L307.59 72.65 L307.98 72.92 L308.36 73.18 L308.75 73.46 L309.13 73.73 L309.52 74.00 L309.90 74.28 L310.28 74.56 L310.66 74.85 L311.04 75.13 L311.42 75.42 L311.80 75.71 L312.18 76.00 L312.56 76.29 L312.93 76.59 L313.31 76.88 L313.68 77.18 L314.06 77.49 L314.43 77.79 L314.80 78.10 L315.17 78.40 L315.54 78.71 L315.91 79.02 L316.28 79.34 L316.65 79.65 L317.02 79.97 L317.39 80.29 L317.75 80.61 L318.12 80.93 L318.48 81.26 L318.85 81.59 L319.21 81.91 L319.57 82.24 L319.94 82.58 L320.30 82.91 L320.66 83.24 L321.02 83.58 L321.37 83.92 L321.73 84.26 L322.09 84.60 L322.45 84.94 L322.80 85.29 L323.16 85.63 L323.51 85.98 L323.87 86.33 L324.22 86.68 L324.57 87.03 L324.92 87.38 L325.28 87.74 L325.63 88.09 L325.98 88.45 L326.32 88.81 L326.67 89.17 L327.02 89.53 L327.37 89.89 L327.71 90.25 L328.06 90.62 L328.40 90.98 L328.75 91.35 L329.09 91.72 L329.44 92.08 L329.78 92.45 L330.12 92.83 L330.46 93.20 L330.80 93.57 L331.14 93.95 L331.48 94.32 L331.82 94.70 L332.16 95.07 L332.49 95.45 L332.83 95.83 L333.17 96.21 L333.50 96.59 L333.84 96.97 L334.17 97.36 L334.50 97.74 L334.84 98.12 L335.17 98.51 L335.50 98.89" stroke="#0000ff" stroke-dasharray="4.1 3.8"/>
</g>
<rect x="48.05" y="30.5" width="287.45" height="188.7" fill="none" stroke="#000" stroke-width="1"/>
<line x1="48.05" y1="219.55" x2="51.15" y2="219.55" stroke="#000" stroke-width="1"/>
<line x1="335.50" y1="219.55" x2="332.40" y2="219.55" stroke="#000" stroke-width="1"/>
<line x1="48.05" y1="212.64" x2="51.15" y2="212.64" stroke="#000" stroke-width="1"/>
<line x1="335.50" y1="212.64" x2="332.40" y2="212.64" stroke="#000" stroke-width="1"/>
<line x1="48.05" y1="206.45" x2="53.75" y2="206.45" stroke="#000" stroke-width="1"/>
<line x1="335.50" y1="206.45" x2="329.80" y2="206.45" stroke="#000" stroke-width="1"/>
<line x1="48.05" y1="165.75" x2="51.15" y2="165.75" stroke="#000" stroke-width="1"/>
<line x1="335.50" y1="165.75" x2="332.40" y2="165.75" stroke="#000" stroke-width="1"/>
<line x1="48.05" y1="141.94" x2="51.15" y2="141.94" stroke="#000" stroke-width="1"/>
<line x1="335.50" y1="141.94" x2="332.40" y2="141.94" stroke="#000" stroke-width="1"/>
<line x1="48.05" y1="125.05" x2="51.15" y2="125.05" stroke="#000" stroke-width="1"/>
<line x1="335.50" y1="125.05" x2="332.40" y2="125.05" stroke="#000" stroke-width="1"/>
<line x1="48.05" y1="111.95" x2="51.15" y2="111.95" stroke="#000" stroke-width="1"/>
<line x1="335.50" y1="111.95" x2="332.40" y2="111.95" stroke="#000" stroke-width="1"/>
<line x1="48.05" y1="101.24" x2="51.15" y2="101.24" stroke="#000" stroke-width="1"/>
<line x1="335.50" y1="101.24" x2="332.40" y2="101.24" stroke="#000" stroke-width="1"/>
<line x1="48.05" y1="92.19" x2="51.15" y2="92.19" stroke="#000" stroke-width="1"/>
<line x1="335.50" y1="92.19" x2="332.40" y2="92.19" stroke="#000" stroke-width="1"/>
<line x1="48.05" y1="84.35" x2="51.15" y2="84.35" stroke="#000" stroke-width="1"/>
<line x1="335.50" y1="84.35" x2="332.40" y2="84.35" stroke="#000" stroke-width="1"/>
<line x1="48.05" y1="77.44" x2="51.15" y2="77.44" stroke="#000" stroke-width="1"/>
<line x1="335.50" y1="77.44" x2="332.40" y2="77.44" stroke="#000" stroke-width="1"/>
<line x1="48.05" y1="71.25" x2="53.75" y2="71.25" stroke="#000" stroke-width="1"/>
<line x1="335.50" y1="71.25" x2="329.80" y2="71.25" stroke="#000" stroke-width="1"/>
<line x1="48.05" y1="30.55" x2="51.15" y2="30.55" stroke="#000" stroke-width="1"/>
<line x1="335.50" y1="30.55" x2="332.40" y2="30.55" stroke="#000" stroke-width="1"/>
<line x1="48.05" y1="219.20" x2="48.05" y2="215.90" stroke="#000" stroke-width="1"/>
<line x1="171.85" y1="219.20" x2="171.85" y2="215.90" stroke="#000" stroke-width="1"/>
<line x1="244.27" y1="219.20" x2="244.27" y2="215.90" stroke="#000" stroke-width="1"/>
<line x1="295.65" y1="219.20" x2="295.65" y2="215.90" stroke="#000" stroke-width="1"/>
<line x1="335.50" y1="219.20" x2="335.50" y2="215.90" stroke="#000" stroke-width="1"/>
<line x1="48.05" y1="30.50" x2="48.05" y2="33.80" stroke="#000" stroke-width="1"/>
<line x1="74.70" y1="30.50" x2="74.70" y2="33.80" stroke="#000" stroke-width="1"/>
<line x1="103.80" y1="30.50" x2="103.80" y2="33.80" stroke="#000" stroke-width="1"/>
<line x1="137.60" y1="30.50" x2="137.60" y2="33.80" stroke="#000" stroke-width="1"/>
<line x1="179.00" y1="30.50" x2="179.00" y2="33.80" stroke="#000" stroke-width="1"/>
<line x1="236.30" y1="30.50" x2="236.30" y2="33.80" stroke="#000" stroke-width="1"/>
<!-- tick labels -->
<g text-anchor="middle">
<text x="48.05" y="26.4">0</text>
<text x="74.7" y="26.4">2</text>
<text x="103.8" y="26.4">4</text>
<text x="137.6" y="26.4">6</text>
<text x="179.0" y="26.4">8</text>
<text x="236.3" y="26.4">10</text>
<text x="48.05" y="231">0</text>
<text x="171.85" y="231">1</text>
<text x="244.27" y="231">2</text>
<text x="295.65" y="231">3</text>
<text x="335.50" y="231">4</text>
<text x="191.8" y="19.3" font-size="9.2">lookback time in Gyr</text>
<text x="191.7" y="240.4">z</text>
</g>
<g text-anchor="end">
<text x="45.4" y="73.9">0.10</text>
<text x="45.4" y="209.4">0.01</text>
</g>
<text font-size="9" transform="translate(22.6,171.1) rotate(-90) scale(1,1.06)"><tspan x="-0.15 5.49 10.83 17.09">SFRD</tspan><tspan x="26.5 30.31">(M</tspan><tspan font-size="6" x="38.3" dy="2.5">Sun</tspan><tspan x="50.8 58.37 62.8" dy="-2.5">Mpc</tspan><tspan font-size="6.3" x="66.9 69.77" dy="-3.8">-3</tspan><tspan x="75.35 81.03" dy="3.8">yr</tspan><tspan font-size="6.3" x="84.3 86.8" dy="-3.8">-1</tspan><tspan x="90.4" dy="3.8">)</tspan></text>
<!-- legend -->
<rect x="132.3" y="152.8" width="184.9" height="45.5" fill="#fff" stroke="#222" stroke-width="0.6"/>
<g stroke-width="1.0">
<line x1="139.9" x2="171.4" y1="158.6" y2="158.6" stroke="#ff0000"/>
<line x1="139.9" x2="171.4" y1="166.95" y2="166.95" stroke="#ff0000" stroke-dasharray="4.1 3.8"/>
<line x1="139.9" x2="171.4" y1="175.3" y2="175.3" stroke="#0000ff"/>
<line x1="139.9" x2="171.4" y1="183.65" y2="183.65" stroke="#0000ff" stroke-dasharray="4.1 3.8"/>
<line x1="139.9" x2="171.4" y1="192.0" y2="192.0" stroke="#008000" stroke-width="1.0"/>
</g>
<g font-size="8.32">
<text x="176.8" y="161.0">SalA IMF: Smoothed Piecewise Linear</text>
<text x="176.8" y="169.1">SalA IMF: form of Cole et al. (2001)</text>
<text x="176.8" y="177.2">BG IMF: Smoothed Piecewise Linear</text>
<text x="176.8" y="185.3">BG IMF: form of Cole et al. (2001)</text>
<text x="176.8" y="193.4">Salim et al. 2007 point</text>
</g>
</svg></body></html>
